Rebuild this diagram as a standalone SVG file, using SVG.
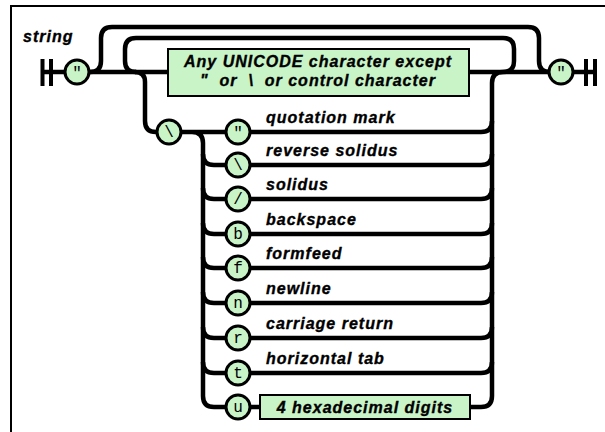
<svg xmlns="http://www.w3.org/2000/svg" width="605" height="432" viewBox="0 0 605 432">
<style>
.frame{fill:none;stroke:#000;stroke-width:2}
.ln{fill:none;stroke:#000;stroke-width:4.5}
.bar{fill:#000}
.term{fill:#c8f4c8;stroke:#000;stroke-width:3}
.box{fill:#c8f4c8;stroke:#000;stroke-width:2}
.t{font-family:"Liberation Sans",Arial,sans-serif;font-weight:bold;font-style:italic;font-size:16px;letter-spacing:1px;fill:#000;stroke:#000;stroke-width:0.35}
.g{font-family:"Liberation Mono","Courier New",monospace;font-size:16px;fill:#000;text-anchor:middle}
.c{text-anchor:middle}
</style>
<rect width="605" height="432" fill="#fff"/>
<path class="frame" d="M11 432 V6 H605"/>
<text class="t" x="23" y="42">string</text>
<g id="connectors">
<path class="ln" d="M42 72 H65 M89 72 H168 M469 72 H550 M574 72 H595"/>
<path class="ln" d="M90 72 Q101 72 101 61 V38 Q101 27 112 27 H528 Q539 27 539 38 V61 Q539 72 550 72"/>
<path class="ln" d="M136 72 Q125 72 125 61 V49 Q125 38 136 38 H503 Q514 38 514 49 V61 Q514 72 503 72"/>
<path class="ln" d="M135 72 Q145 72 145 82 V121 Q145 132 156 132 H157"/>
<path class="ln" d="M181 132 H226 M192 132 Q203 132 203 143 V396 Q203 407 214 407 H226"/>
<path class="ln" d="M203 154 Q203 165 214 165 H226 M203 188 Q203 199 214 199 H226 M203 223 Q203 234 214 234 H226 M203 257 Q203 268 214 268 H226 M203 292 Q203 303 214 303 H226 M203 327 Q203 338 214 338 H226 M203 362 Q203 373 214 373 H226"/>
<path class="ln" d="M250 132 H481 Q492 132 492 121 M250 165 H481 Q492 165 492 154 M250 199 H481 Q492 199 492 188 M250 234 H481 Q492 234 492 223 M250 268 H481 Q492 268 492 257 M250 303 H481 Q492 303 492 292 M250 338 H481 Q492 338 492 327 M250 373 H481 Q492 373 492 362"/>
<path class="ln" d="M250 407 H260 M470 407 H481 Q492 407 492 396 V83 Q492 72 503 72"/>
</g>
<g id="start"><rect class="bar" x="40.5" y="59" width="4" height="27"/><rect class="bar" x="49" y="59" width="4" height="27"/></g>
<g id="quote-open"><circle class="term" cx="77" cy="72" r="12"/><text class="g" x="77" y="78">"</text></g>
<g id="unicode-char"><rect class="box" x="168" y="49" width="301" height="47"/>
<text class="t c" x="318" y="67">Any UNICODE character except</text>
<text class="t c" x="318" y="86" xml:space="preserve">"  or  \  or control character</text></g>
<g id="quote-close"><circle class="term" cx="561" cy="72" r="12"/><text class="g" x="561" y="78">"</text></g>
<g id="end"><rect class="bar" x="584" y="59" width="4" height="27"/><rect class="bar" x="593" y="59" width="4" height="27"/></g>
<g id="escape"><circle class="term" cx="169" cy="132" r="12"/><text class="g" x="169" y="137">\</text></g>
<g id="esc-quote"><circle class="term" cx="238" cy="132" r="12"/><text class="g" x="238" y="138">"</text><text class="t" x="266" y="123">quotation mark</text></g>
<g id="esc-backslash"><circle class="term" cx="238" cy="165" r="12"/><text class="g" x="238" y="170">\</text><text class="t" x="266" y="156">reverse solidus</text></g>
<g id="esc-slash"><circle class="term" cx="238" cy="199" r="12"/><text class="g" x="238" y="204">/</text><text class="t" x="266" y="190">solidus</text></g>
<g id="esc-b"><circle class="term" cx="238" cy="234" r="12"/><text class="g" x="238" y="239">b</text><text class="t" x="266" y="225">backspace</text></g>
<g id="esc-f"><circle class="term" cx="238" cy="268" r="12"/><text class="g" x="238" y="273">f</text><text class="t" x="266" y="259">formfeed</text></g>
<g id="esc-n"><circle class="term" cx="238" cy="303" r="12"/><text class="g" x="238" y="308">n</text><text class="t" x="266" y="294">newline</text></g>
<g id="esc-r"><circle class="term" cx="238" cy="338" r="12"/><text class="g" x="238" y="343">r</text><text class="t" x="266" y="329">carriage return</text></g>
<g id="esc-t"><circle class="term" cx="238" cy="373" r="12"/><text class="g" x="238" y="378">t</text><text class="t" x="266" y="364">horizontal tab</text></g>
<g id="esc-u"><circle class="term" cx="238" cy="407" r="12"/><text class="g" x="238" y="412">u</text></g>
<g id="hex-digits"><rect class="box" x="260" y="395" width="210" height="24"/><text class="t c" x="365" y="413">4 hexadecimal digits</text></g>
</svg>
